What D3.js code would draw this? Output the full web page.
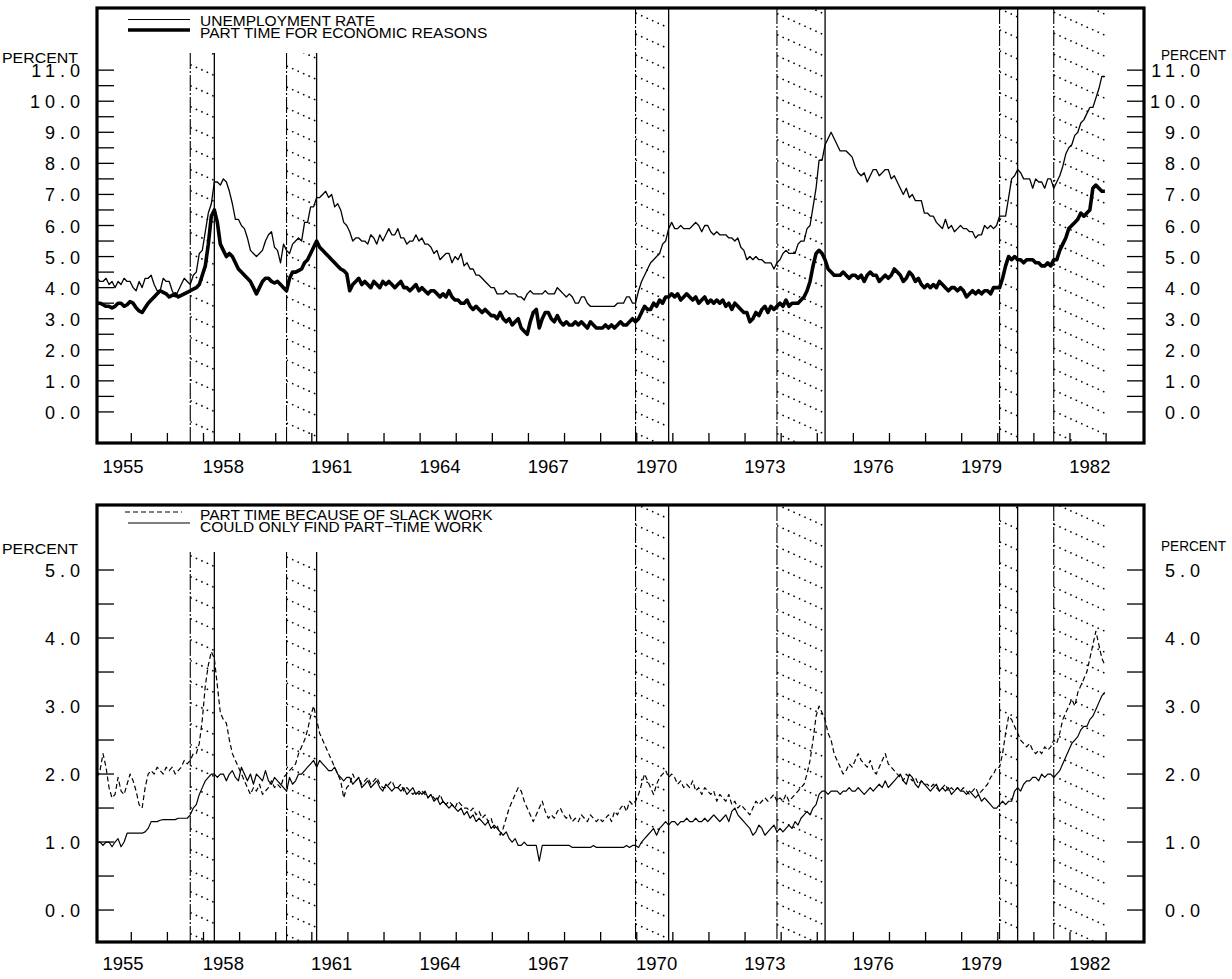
<!DOCTYPE html>
<html>
<head>
<meta charset="utf-8">
<script src="https://cdn.jsdelivr.net/npm/d3@7"></script>
<style>
  body { margin: 0; background: #fff; }
</style>
</head>
<body>
<div id="chart"></div>
<script>
// monthly series, Jan 1955 .. Dec 1982
var startYear = 1955;

var unemployment = [
  4.3,4.2,4.2,4.3,4.1,4.2,4.0,4.2,4.1,4.3,4.2,4.2,
  4.0,3.9,4.2,4.0,4.3,4.3,4.4,4.1,3.9,3.9,4.3,4.2,
  4.2,3.9,3.7,3.9,4.1,4.3,4.2,4.1,4.4,4.5,5.1,5.2,
  5.8,6.4,6.7,7.4,7.4,7.3,7.5,7.4,7.1,6.7,6.2,6.2,
  6.0,5.9,5.6,5.2,5.1,5.0,5.1,5.2,5.5,5.7,5.8,5.3,
  5.2,4.8,5.4,5.2,5.1,5.4,5.5,5.6,5.5,6.1,6.1,6.6,
  6.6,6.9,6.9,7.0,7.1,6.9,7.0,6.6,6.7,6.5,6.1,6.0,
  5.8,5.5,5.6,5.6,5.5,5.5,5.4,5.7,5.6,5.4,5.7,5.5,
  5.7,5.9,5.7,5.7,5.9,5.6,5.6,5.4,5.5,5.5,5.7,5.5,
  5.6,5.4,5.4,5.3,5.1,5.2,4.9,5.0,5.1,5.1,4.8,5.0,
  4.9,5.1,4.7,4.8,4.6,4.6,4.4,4.4,4.3,4.2,4.1,4.0,
  4.0,3.8,3.8,3.8,3.9,3.8,3.8,3.8,3.7,3.7,3.6,3.8,
  3.9,3.8,3.8,3.8,3.8,3.9,3.8,3.8,3.8,4.0,3.9,3.8,
  3.7,3.8,3.7,3.5,3.5,3.7,3.7,3.5,3.4,3.4,3.4,3.4,
  3.4,3.4,3.4,3.4,3.4,3.5,3.5,3.5,3.7,3.7,3.5,3.5,
  3.9,4.2,4.4,4.6,4.8,4.9,5.0,5.1,5.4,5.5,5.9,6.1,
  5.9,5.9,6.0,5.9,5.9,5.9,6.0,6.1,6.0,5.8,6.0,6.0,
  5.8,5.7,5.8,5.7,5.7,5.7,5.6,5.6,5.5,5.6,5.3,5.2,
  4.9,5.0,4.9,5.0,4.9,4.9,4.8,4.8,4.8,4.6,4.8,4.9,
  5.1,5.2,5.1,5.1,5.1,5.4,5.5,5.5,5.9,6.0,6.6,7.2,
  8.1,8.1,8.6,8.8,9.0,8.8,8.6,8.4,8.4,8.4,8.3,8.2,
  7.9,7.7,7.6,7.7,7.4,7.6,7.8,7.8,7.6,7.7,7.8,7.8,
  7.5,7.6,7.4,7.2,7.0,7.2,6.9,7.0,6.8,6.8,6.8,6.4,
  6.4,6.3,6.3,6.1,6.0,5.9,6.2,5.9,6.0,5.8,5.9,6.0,
  5.9,5.9,5.8,5.8,5.6,5.7,5.7,6.0,5.9,6.0,5.9,6.0,
  6.3,6.3,6.3,6.9,7.5,7.6,7.8,7.7,7.5,7.5,7.5,7.2,
  7.5,7.4,7.4,7.2,7.5,7.5,7.2,7.4,7.6,7.9,8.3,8.5,
  8.6,8.9,9.0,9.3,9.4,9.6,9.8,9.8,10.1,10.4,10.8,10.8
];

var partTimeEcon = [
  3.5,3.5,3.45,3.4,3.4,3.35,3.4,3.5,3.5,3.4,3.45,3.55,
  3.5,3.35,3.25,3.2,3.35,3.5,3.6,3.7,3.8,3.9,3.85,3.8,
  3.7,3.75,3.8,3.7,3.75,3.8,3.85,3.9,3.95,4.0,4.1,4.4,
  4.7,5.4,6.3,6.5,6.1,5.4,5.2,5.0,5.1,5.0,4.8,4.6,
  4.5,4.4,4.3,4.2,4.0,3.8,4.0,4.2,4.3,4.3,4.2,4.15,
  4.2,4.1,4.0,3.9,4.3,4.5,4.5,4.55,4.6,4.8,4.9,5.1,
  5.3,5.5,5.3,5.2,5.1,5.0,4.9,4.8,4.7,4.6,4.55,4.45,
  3.9,4.1,4.2,4.3,4.1,4.2,4.1,4.0,4.2,4.1,4.0,4.2,
  4.1,4.2,4.1,4.0,4.1,4.2,4.0,4.0,3.9,4.0,4.1,3.9,
  4.0,3.9,3.8,3.9,3.9,3.8,3.7,3.8,3.7,3.9,3.7,3.6,
  3.6,3.5,3.5,3.6,3.4,3.3,3.4,3.3,3.2,3.3,3.2,3.1,
  3.1,3.0,3.2,3.0,2.9,3.0,2.8,2.9,3.0,2.7,2.6,2.5,
  2.9,3.2,3.3,2.7,3.0,3.2,3.2,3.0,2.9,3.1,2.9,2.8,
  2.9,2.8,2.8,2.9,2.8,2.9,2.8,2.7,2.9,2.8,2.7,2.7,
  2.7,2.8,2.7,2.8,2.7,2.8,2.9,2.8,2.8,2.9,3.0,2.9,
  3.0,3.2,3.4,3.3,3.3,3.5,3.4,3.6,3.5,3.7,3.7,3.8,
  3.7,3.8,3.6,3.7,3.8,3.7,3.6,3.7,3.5,3.6,3.7,3.5,
  3.6,3.5,3.6,3.5,3.6,3.4,3.5,3.3,3.5,3.4,3.3,3.2,
  3.2,2.9,3.0,3.2,3.1,3.3,3.4,3.2,3.4,3.3,3.4,3.5,
  3.4,3.6,3.4,3.5,3.5,3.5,3.6,3.7,3.9,4.2,4.7,5.1,
  5.2,5.1,4.9,4.6,4.5,4.4,4.4,4.4,4.5,4.4,4.3,4.4,
  4.4,4.3,4.4,4.2,4.4,4.5,4.4,4.4,4.2,4.3,4.4,4.3,
  4.4,4.6,4.5,4.4,4.2,4.3,4.5,4.4,4.2,4.3,4.1,4.0,
  4.1,4.0,4.1,4.0,4.2,4.1,4.0,3.9,4.0,4.0,3.9,4.0,
  3.9,3.7,3.8,3.9,3.8,3.9,3.8,3.9,3.9,3.8,4.0,4.0,
  4.0,4.3,4.7,5.0,4.9,5.0,4.9,4.9,4.8,4.9,4.9,4.9,
  4.8,4.8,4.7,4.7,4.8,4.7,4.9,4.9,5.2,5.4,5.6,5.9,
  6.0,6.1,6.2,6.4,6.3,6.4,6.5,7.2,7.3,7.2,7.1,7.1
];

var slackWork = [
  1.95,2.05,2.3,2.1,1.8,1.65,1.7,1.95,1.75,1.7,1.85,2.0,
  1.9,1.75,1.55,1.5,1.8,2.0,2.05,2.0,2.1,2.05,2.0,2.1,
  2.05,2.1,2.0,2.05,2.1,2.2,2.15,2.2,2.3,2.3,2.45,2.8,
  3.3,3.6,3.8,3.7,3.3,2.9,2.8,2.75,2.5,2.3,2.2,2.1,
  2.0,1.9,1.8,1.7,1.8,1.75,1.85,1.7,1.75,1.8,1.9,1.8,
  1.85,1.8,1.95,2.0,2.05,2.1,2.15,2.3,2.4,2.5,2.65,2.85,
  3.0,2.8,2.6,2.5,2.4,2.3,2.2,2.1,2.0,1.9,1.65,1.8,
  1.85,2.0,1.9,1.95,1.85,1.9,1.95,1.85,1.9,1.95,1.85,1.8,
  1.8,1.85,1.9,1.8,1.8,1.85,1.75,1.8,1.75,1.7,1.75,1.7,
  1.75,1.7,1.65,1.7,1.65,1.6,1.7,1.6,1.55,1.6,1.55,1.5,
  1.6,1.55,1.5,1.5,1.45,1.5,1.4,1.45,1.35,1.4,1.3,1.35,
  1.2,1.25,1.1,1.2,1.35,1.5,1.6,1.7,1.8,1.75,1.6,1.5,
  1.4,1.3,1.4,1.5,1.6,1.45,1.35,1.4,1.35,1.45,1.5,1.4,
  1.35,1.4,1.3,1.35,1.3,1.4,1.35,1.3,1.4,1.35,1.3,1.35,
  1.3,1.35,1.4,1.3,1.45,1.4,1.5,1.55,1.45,1.6,1.55,1.6,
  1.7,1.85,2.0,1.9,1.8,1.7,1.85,1.95,2.0,2.05,1.95,2.0,
  1.95,1.85,1.9,1.8,1.85,1.8,1.9,1.75,1.8,1.7,1.8,1.75,
  1.7,1.75,1.6,1.7,1.65,1.6,1.7,1.55,1.6,1.5,1.55,1.5,
  1.45,1.4,1.5,1.6,1.55,1.6,1.65,1.6,1.65,1.7,1.6,1.65,
  1.6,1.7,1.6,1.65,1.7,1.75,1.8,1.85,2.0,2.2,2.5,2.85,
  3.0,2.9,2.8,2.6,2.5,2.3,2.2,2.1,2.0,2.05,2.15,2.1,
  2.2,2.3,2.2,2.15,2.1,2.2,2.05,2.0,2.1,2.2,2.3,2.15,
  2.1,2.05,2.0,1.95,1.9,2.0,1.95,1.9,1.95,1.85,1.9,1.85,
  1.85,1.8,1.85,1.8,1.75,1.8,1.85,1.75,1.8,1.75,1.8,1.75,
  1.8,1.75,1.7,1.75,1.8,1.7,1.75,1.8,1.85,1.95,2.0,2.1,
  2.1,2.3,2.6,2.85,2.8,2.7,2.6,2.5,2.45,2.4,2.45,2.35,
  2.3,2.35,2.3,2.4,2.35,2.4,2.5,2.45,2.6,2.8,2.9,3.0,
  3.1,3.0,3.2,3.3,3.4,3.5,3.7,3.9,4.1,3.9,3.7,3.6
];

var onlyPartTime = [
  1.0,1.0,0.95,1.0,1.0,0.93,1.0,1.05,0.93,1.0,1.13,1.13,
  1.13,1.13,1.13,1.13,1.15,1.2,1.3,1.3,1.3,1.32,1.33,1.33,
  1.33,1.33,1.33,1.35,1.35,1.35,1.35,1.4,1.5,1.55,1.7,1.8,
  1.9,1.95,2.0,2.0,1.95,2.0,2.0,1.9,2.0,2.05,1.95,1.9,
  2.1,2.0,1.9,2.0,1.85,2.0,1.95,1.9,2.05,1.9,1.85,1.95,
  1.9,1.85,1.8,1.75,1.95,1.85,1.9,2.0,2.0,2.05,2.1,2.15,
  2.2,2.1,2.2,2.15,2.1,2.05,2.05,2.1,2.0,1.95,1.9,1.95,
  1.95,1.85,1.9,1.95,1.8,1.85,1.9,1.8,1.85,1.9,1.8,1.75,
  1.85,1.8,1.75,1.8,1.8,1.75,1.8,1.7,1.75,1.8,1.7,1.75,
  1.7,1.75,1.65,1.7,1.6,1.65,1.55,1.6,1.55,1.5,1.55,1.5,
  1.45,1.5,1.4,1.45,1.35,1.4,1.3,1.35,1.3,1.25,1.3,1.2,
  1.25,1.2,1.15,1.1,1.15,1.05,1.0,1.05,0.95,0.95,1.0,0.95,
  0.95,0.95,0.95,0.72,0.95,0.95,0.95,0.95,0.95,0.95,0.95,0.95,
  0.95,0.95,0.92,0.92,0.92,0.92,0.92,0.92,0.92,0.95,0.92,0.92,
  0.92,0.92,0.92,0.92,0.92,0.92,0.92,0.92,0.95,0.92,0.95,0.95,
  0.92,1.0,1.05,1.1,1.15,1.2,1.1,1.2,1.25,1.3,1.25,1.3,
  1.3,1.25,1.3,1.3,1.35,1.3,1.3,1.35,1.3,1.3,1.35,1.3,
  1.35,1.4,1.35,1.3,1.35,1.4,1.3,1.45,1.5,1.4,1.35,1.3,
  1.25,1.2,1.1,1.15,1.25,1.2,1.1,1.15,1.2,1.25,1.15,1.2,
  1.15,1.2,1.25,1.2,1.3,1.25,1.35,1.4,1.45,1.4,1.5,1.55,
  1.7,1.75,1.75,1.7,1.75,1.75,1.75,1.7,1.75,1.75,1.8,1.75,
  1.75,1.8,1.75,1.7,1.75,1.8,1.75,1.8,1.85,1.8,1.9,1.8,
  1.85,1.9,1.95,2.0,1.9,1.85,2.0,1.95,1.85,1.8,1.9,1.85,
  1.8,1.75,1.8,1.85,1.75,1.8,1.75,1.8,1.7,1.75,1.8,1.75,
  1.75,1.7,1.75,1.7,1.65,1.7,1.6,1.65,1.6,1.55,1.5,1.5,
  1.55,1.6,1.55,1.6,1.6,1.75,1.8,1.75,1.85,1.9,1.9,1.95,
  1.95,1.9,2.0,1.95,2.0,2.0,1.95,2.0,2.05,2.15,2.25,2.35,
  2.45,2.5,2.55,2.65,2.7,2.7,2.8,2.85,2.95,3.05,3.15,3.2
];

// recessions [start, end] in decimal years; last one still open (no end line)
var recessions = [
  [1957 + 7/12, 1958 + 3/12],
  [1960 + 3/12, 1961 + 1/12],
  [1969 + 11/12, 1970 + 10/12],
  [1973 + 10/12, 1975 + 2/12],
  [1980 + 0/12, 1980 + 6/12],
  [1981 + 6/12, 1982 + 11/12]
];
var openRecession = 5;
var lowRecessions = [0, 1];   // these start below the legend

var yearLabels = [1955, 1958, 1961, 1964, 1967, 1970, 1973, 1976, 1979, 1982];
var yearTicks = d3.range(1956, 1984);

var topTicks = d3.range(0, 11.01, 0.5), topLabels = d3.range(0, 11.01, 1);
var botTicks = d3.range(0, 5.01, 0.5), botLabels = d3.range(0, 5.01, 1);

var topLegend = ["UNEMPLOYMENT RATE", "PART TIME FOR ECONOMIC REASONS"];
var botLegend = ["PART TIME BECAUSE OF SLACK WORK", "COULD ONLY FIND PART\u2212TIME WORK"];

// ---------------------------------------------------------------
var W = 1232, H = 979;
var svg = d3.select("#chart").append("svg")
    .attr("width", W).attr("height", H)
    .style("font-family", "'Liberation Sans', Arial, sans-serif");

var left = 97, right = 1144;
var x = d3.scaleLinear().domain([1955, 1984]).range([left, right]);

function monthX(d, i) { return x(startYear + i / 12); }

var fmt = d3.format(".1f");
var slope = 0.45, gap = 21;

function drawPanel(p) {
  var y = d3.scaleLinear().domain(p.domain).range([p.bottom, p.top]);
  var g = svg.append("g");

  // recessions: dotted hatch + boundary lines
  recessions.forEach(function(r, k) {
    var x1 = x(r[0]), x2 = x(r[1]);
    var yt = lowRecessions.indexOf(k) >= 0 ? p.lowTop : p.top;
    var id = p.name + "clip" + k;
    svg.append("clipPath").attr("id", id).append("rect")
        .attr("x", x1).attr("y", yt).attr("width", x2 - x1).attr("height", p.bottom - yt);
    var hg = g.append("g").attr("clip-path", "url(#" + id + ")");
    var kmin = Math.floor((yt - slope * x2) / gap) - 1,
        kmax = Math.ceil((p.bottom - slope * x1) / gap) + 1;
    for (var j = kmin; j <= kmax; j++) {
      var c = j * gap + p.hatchOffset;
      hg.append("line")
          .attr("x1", x1).attr("y1", c + slope * x1)
          .attr("x2", x2).attr("y2", c + slope * x2)
          .attr("stroke", "#000").attr("stroke-width", 1.5)
          .attr("stroke-dasharray", "1.6,4.4");
    }
    g.append("line")
        .attr("x1", x1).attr("x2", x1).attr("y1", yt).attr("y2", p.bottom)
        .attr("stroke", "#000").attr("stroke-width", 1.1)
        .attr("stroke-dasharray", "16,2,2,2");
    if (k !== openRecession) {
      g.append("line")
          .attr("x1", x2).attr("x2", x2).attr("y1", yt).attr("y2", p.bottom)
          .attr("stroke", "#000").attr("stroke-width", 1.3);
    }
  });

  // series
  p.series.forEach(function(s) {
    var line = d3.line().x(monthX).y(function(d) { return y(d); });
    g.append("path")
        .datum(s.values)
        .attr("fill", "none")
        .attr("stroke", "#000")
        .attr("stroke-width", s.width)
        .attr("stroke-linejoin", "round")
        .attr("stroke-dasharray", s.dash || null)
        .attr("d", line);
  });

  // y ticks, both sides
  p.ticks.forEach(function(t) {
    g.append("line").attr("x1", left).attr("x2", left + 17)
        .attr("y1", y(t)).attr("y2", y(t)).attr("stroke", "#000").attr("stroke-width", 1.3);
    g.append("line").attr("x1", right - 17).attr("x2", right)
        .attr("y1", y(t)).attr("y2", y(t)).attr("stroke", "#000").attr("stroke-width", 1.3);
  });
  p.labels.forEach(function(t) {
    g.append("text").attr("x", 85).attr("y", y(t) + 7)
        .attr("text-anchor", "end").attr("font-size", 18).attr("letter-spacing", 5)
        .text(fmt(t));
    g.append("text").attr("x", 1205).attr("y", y(t) + 7)
        .attr("text-anchor", "end").attr("font-size", 18).attr("letter-spacing", 5)
        .text(fmt(t));
  });
  g.append("text").attr("x", 2).attr("y", p.percentY).attr("font-size", 15.5)
      .attr("textLength", 76).attr("lengthAdjust", "spacingAndGlyphs").text("PERCENT");
  g.append("text").attr("x", 1161).attr("y", p.percentY - 3).attr("font-size", 14)
      .attr("textLength", 65).attr("lengthAdjust", "spacingAndGlyphs").text("PERCENT");

  // x ticks and labels
  yearTicks.forEach(function(t) {
    g.append("line").attr("x1", x(t - 0.05)).attr("x2", x(t - 0.05))
        .attr("y1", p.bottom).attr("y2", p.bottom - 10)
        .attr("stroke", "#000").attr("stroke-width", 1.3);
  });
  yearLabels.forEach(function(t, i) {
    g.append("text").attr("x", x(t + (i === 0 ? 0.72 : 0.5))).attr("y", p.labelY)
        .attr("text-anchor", "middle").attr("font-size", 18.5).text(t);
  });

  // frame
  g.append("rect").attr("x", left).attr("y", p.top)
      .attr("width", right - left).attr("height", p.bottom - p.top)
      .attr("fill", "none").attr("stroke", "#000").attr("stroke-width", 3.2);

  // legend
  p.legend.forEach(function(l, i) {
    g.append("line").attr("x1", l.x1).attr("x2", l.x2)
        .attr("y1", p.legendY[i]).attr("y2", p.legendY[i])
        .attr("stroke", "#000").attr("stroke-width", l.width)
        .attr("stroke-dasharray", l.dash || null);
    g.append("text").attr("x", 200).attr("y", p.legendBase[i])
        .attr("font-size", 15.5).text(l.text);
  });
}

drawPanel({
  name: "top", top: 8, bottom: 443, lowTop: 53, domain: [-1, 13],
  ticks: topTicks, labels: topLabels, percentY: 63, labelY: 473, hatchOffset: 0,
  series: [
    {values: unemployment, width: 1.3},
    {values: partTimeEcon, width: 3.6}
  ],
  legendY: [19.5, 30], legendBase: [25.5, 37.5],
  legend: [
    {text: topLegend[0], width: 1.2, x1: 128, x2: 190},
    {text: topLegend[1], width: 3.6, x1: 128, x2: 190}
  ]
});

drawPanel({
  name: "bot", top: 505, bottom: 942, lowTop: 552, domain: [-0.47, 5.956],
  ticks: botTicks, labels: botLabels, percentY: 554, labelY: 970, hatchOffset: 8,
  series: [
    {values: slackWork, width: 1.2, dash: "5,3"},
    {values: onlyPartTime, width: 1.2}
  ],
  legendY: [512, 523], legendBase: [520, 531.5],
  legend: [
    {text: botLegend[0], width: 1.2, dash: "5,3", x1: 125, x2: 182},
    {text: botLegend[1], width: 1.2, x1: 128, x2: 190}
  ]
});
</script>
</body>
</html>
